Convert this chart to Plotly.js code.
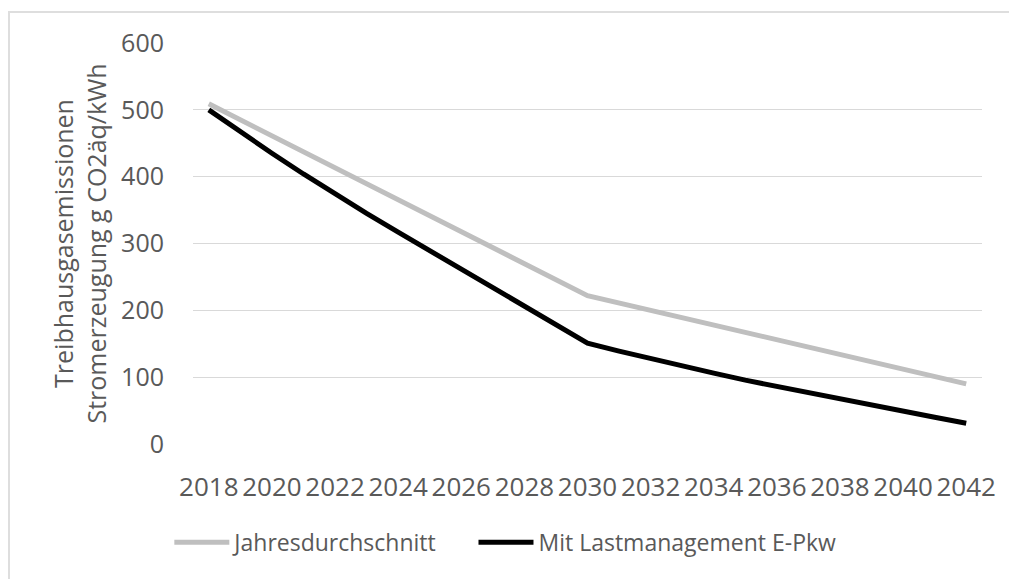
<!DOCTYPE html>
<html>
<head>
<meta charset="utf-8">
<script src="https://cdn.plot.ly/plotly-3.0.1.min.js"></script>
<style>
  html, body { margin: 0; padding: 0; background: #fff; }
  #frame {
    position: absolute; left: 8px; top: 11px;
    width: 1020px; height: 600px;
    border: 2px solid #dedede; box-sizing: border-box;
  }
  #chart { position: absolute; left: 0; top: 0; width: 1009px; height: 579px; }
</style>
</head>
<body>
<div id="frame"></div>
<div id="chart"></div>
<script>
// Greenhouse-gas intensity of electricity generation, g CO2eq per kWh
const yearsAvg = [2018, 2030, 2042];
const annualAverage = [509, 222, 90];

const yearsManaged = [2018, 2019, 2020, 2021, 2022, 2023, 2024, 2025, 2026, 2027, 2028, 2029, 2030,
                      2031, 2032, 2033, 2034, 2035, 2036, 2037, 2038, 2039, 2040, 2041, 2042];
const withLoadManagement = [500, 467, 435, 404, 374, 345, 317, 289, 261, 233, 205, 178, 151,
                            139, 127.5, 116, 106, 95.5, 86, 76.5, 67, 58, 49, 40, 31];

const seriesNames = ['Jahresdurchschnitt', 'Mit Lastmanagement E-Pkw'];
const xTickYears = [2018, 2020, 2022, 2024, 2026, 2028, 2030, 2032, 2034, 2036, 2038, 2040, 2042];
const yTicks = [0, 100, 200, 300, 400, 500, 600];
const yTitleLines = ['Treibhausgasemissionen', 'Stromerzeugung g CO2äq/kWh'];

const textColor = '#595959';
const fontFamily = '"Open Sans", "DejaVu Sans", sans-serif';

const traces = [
  {
    x: yearsAvg, y: annualAverage, name: seriesNames[0],
    type: 'scatter', mode: 'lines',
    line: { color: '#bfbfbf', width: 5 },
    legend: 'legend'
  },
  {
    x: yearsManaged, y: withLoadManagement, name: seriesNames[1],
    type: 'scatter', mode: 'lines',
    line: { color: '#000000', width: 5 },
    legend: 'legend2'
  }
];

const legendBase = {
  orientation: 'h',
  xanchor: 'left',
  y: -0.245, yanchor: 'middle',
  font: { family: fontFamily, size: 23, color: textColor },
  itemwidth: 55,
  bgcolor: 'rgba(0,0,0,0)'
};

const layout = {
  width: 1009, height: 579,
  margin: { l: 193, r: 27, t: 43, b: 135 },
  paper_bgcolor: 'rgba(0,0,0,0)',
  plot_bgcolor: 'rgba(0,0,0,0)',
  font: { family: fontFamily, size: 25, color: textColor },
  xaxis: {
    range: [2017.5, 2042.5],
    tickvals: xTickYears,
    ticktext: xTickYears.map(String),
    showgrid: false, zeroline: false, showline: false,
    ticks: 'outside', ticklen: 20, tickcolor: 'rgba(0,0,0,0)',
    tickfont: { family: fontFamily, size: 26, color: textColor },
    fixedrange: true
  },
  yaxis: {
    range: [0, 600],
    tickvals: yTicks,
    showgrid: true, gridcolor: '#d9d9d9', gridwidth: 1.3,
    zeroline: false, showline: false,
    ticks: 'outside', ticklen: 23, tickcolor: 'rgba(0,0,0,0)',
    tickfont: { family: fontFamily, size: 25, color: textColor },
    title: {
      text: yTitleLines.join('<br>'),
      font: { family: fontFamily, size: 25, color: textColor },
      standoff: 7
    },
    fixedrange: true
  },
  showlegend: true,
  legend: Object.assign({}, legendBase, { x: -0.03 }),
  legend2: Object.assign({}, legendBase, { x: 0.3555 })
};

Plotly.newPlot('chart', traces, layout, { staticPlot: true, displayModeBar: false });
</script>
</body>
</html>
